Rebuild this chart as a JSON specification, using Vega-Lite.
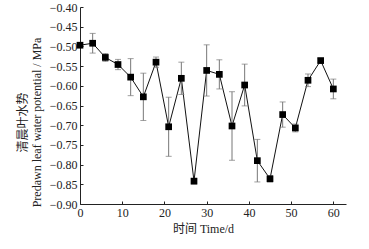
{
  "$schema": "https://vega.github.io/schema/vega-lite/v6.json",
  "width": 266,
  "height": 197,
  "autosize": {"type": "none"},
  "padding": {"left": 80, "top": 7, "right": 23, "bottom": 45},
  "background": "white",
  "config": {
    "view": {"stroke": null},
    "font": "Liberation Serif",
    "axis": {
      "labelFont": "Liberation Serif",
      "titleFont": "Liberation Serif, Noto Sans CJK SC",
      "labelFontSize": 12,
      "titleFontSize": 12,
      "labelColor": "#222",
      "titleColor": "#222",
      "domainColor": "#222",
      "tickColor": "#222",
      "grid": false,
      "titleFontWeight": "normal",
      "labelOverlap": false
    }
  },
  "data": {
    "values": [
      {"day": 0, "value": -0.497, "lo": -0.502, "hi": -0.492},
      {"day": 3, "value": -0.492, "lo": -0.517, "hi": -0.467},
      {"day": 6, "value": -0.528, "lo": -0.538, "hi": -0.518},
      {"day": 9, "value": -0.546, "lo": -0.559, "hi": -0.533},
      {"day": 12, "value": -0.578, "lo": -0.625, "hi": -0.531},
      {"day": 15, "value": -0.628, "lo": -0.688, "hi": -0.568},
      {"day": 18, "value": -0.540, "lo": -0.553, "hi": -0.527},
      {"day": 21, "value": -0.704, "lo": -0.779, "hi": -0.629},
      {"day": 24, "value": -0.581, "lo": -0.622, "hi": -0.540},
      {"day": 27, "value": -0.842, "lo": -0.849, "hi": -0.835},
      {"day": 30, "value": -0.561, "lo": -0.626, "hi": -0.496},
      {"day": 33, "value": -0.571, "lo": -0.608, "hi": -0.534},
      {"day": 36, "value": -0.702, "lo": -0.789, "hi": -0.615},
      {"day": 39, "value": -0.598, "lo": -0.651, "hi": -0.545},
      {"day": 42, "value": -0.790, "lo": -0.844, "hi": -0.736},
      {"day": 45, "value": -0.836, "lo": -0.844, "hi": -0.828},
      {"day": 48, "value": -0.673, "lo": -0.705, "hi": -0.641},
      {"day": 51, "value": -0.707, "lo": -0.717, "hi": -0.697},
      {"day": 54, "value": -0.586, "lo": -0.602, "hi": -0.570},
      {"day": 57, "value": -0.536, "lo": -0.541, "hi": -0.531},
      {"day": 60, "value": -0.608, "lo": -0.633, "hi": -0.583}
    ]
  },
  "encoding": {
    "x": {
      "field": "day",
      "type": "quantitative",
      "scale": {"domain": [0, 63], "nice": false, "zero": false},
      "axis": {
        "values": [0, 10, 20, 30, 40, 50, 60],
        "title": "时间 Time/d",
        "tickSize": -3,
        "labelPadding": 6,
        "titlePadding": 5,
        "titleX": 123,
        "labelFlush": false
      }
    }
  },
  "layer": [
    {
      "mark": {"type": "line", "color": "#111", "strokeWidth": 1},
      "encoding": {
        "y": {
          "field": "value",
          "type": "quantitative",
          "scale": {"domain": [-0.9, -0.4], "nice": false, "zero": false},
          "axis": {
            "values": [-0.9, -0.85, -0.8, -0.75, -0.7, -0.65, -0.6, -0.55, -0.5, -0.45, -0.4],
            "format": ".2f",
            "title": ["清晨叶水势", "Predawn leaf water potential / MPa"],
            "tickSize": -3,
            "labelPadding": 6,
            "titlePadding": 6,
            "titleY": 115,
            "labelFlush": false,
            "labelOverlap": false
          }
        }
      }
    },
    {
      "mark": {"type": "rule", "color": "#777", "strokeWidth": 1},
      "encoding": {
        "y": {
          "field": "lo",
          "type": "quantitative",
          "scale": {"domain": [-0.9, -0.4], "nice": false, "zero": false},
          "axis": {
            "values": [-0.9, -0.85, -0.8, -0.75, -0.7, -0.65, -0.6, -0.55, -0.5, -0.45, -0.4],
            "format": ".2f",
            "title": ["清晨叶水势", "Predawn leaf water potential / MPa"],
            "tickSize": -3,
            "labelPadding": 6,
            "titlePadding": 6,
            "titleY": 115,
            "labelFlush": false,
            "labelOverlap": false
          }
        },
        "y2": {"field": "hi"}
      }
    },
    {
      "mark": {"type": "tick", "orient": "horizontal", "color": "#777", "size": 6, "thickness": 1},
      "encoding": {
        "y": {
          "field": "lo",
          "type": "quantitative",
          "scale": {"domain": [-0.9, -0.4], "nice": false, "zero": false},
          "axis": {
            "values": [-0.9, -0.85, -0.8, -0.75, -0.7, -0.65, -0.6, -0.55, -0.5, -0.45, -0.4],
            "format": ".2f",
            "title": ["清晨叶水势", "Predawn leaf water potential / MPa"],
            "tickSize": -3,
            "labelPadding": 6,
            "titlePadding": 6,
            "titleY": 115,
            "labelFlush": false,
            "labelOverlap": false
          }
        }
      }
    },
    {
      "mark": {"type": "tick", "orient": "horizontal", "color": "#777", "size": 6, "thickness": 1},
      "encoding": {
        "y": {
          "field": "hi",
          "type": "quantitative",
          "scale": {"domain": [-0.9, -0.4], "nice": false, "zero": false},
          "axis": {
            "values": [-0.9, -0.85, -0.8, -0.75, -0.7, -0.65, -0.6, -0.55, -0.5, -0.45, -0.4],
            "format": ".2f",
            "title": ["清晨叶水势", "Predawn leaf water potential / MPa"],
            "tickSize": -3,
            "labelPadding": 6,
            "titlePadding": 6,
            "titleY": 115,
            "labelFlush": false,
            "labelOverlap": false
          }
        }
      }
    },
    {
      "mark": {"type": "square", "color": "#000", "opacity": 1, "size": 45, "filled": true},
      "encoding": {
        "y": {
          "field": "value",
          "type": "quantitative",
          "scale": {"domain": [-0.9, -0.4], "nice": false, "zero": false},
          "axis": {
            "values": [-0.9, -0.85, -0.8, -0.75, -0.7, -0.65, -0.6, -0.55, -0.5, -0.45, -0.4],
            "format": ".2f",
            "title": ["清晨叶水势", "Predawn leaf water potential / MPa"],
            "tickSize": -3,
            "labelPadding": 6,
            "titlePadding": 6,
            "titleY": 115,
            "labelFlush": false,
            "labelOverlap": false
          }
        }
      }
    }
  ]
}
